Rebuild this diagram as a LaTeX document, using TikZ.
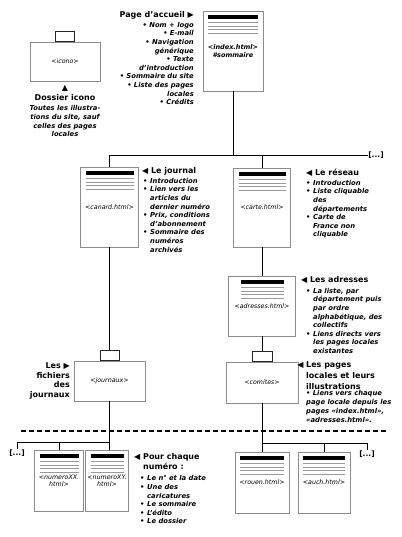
\documentclass[tikz,border=0pt]{standalone}
\usepackage{fontspec}
\setmainfont{DejaVu Sans}
\usetikzlibrary{positioning}

\newcommand{\puce}{\makebox[7pt][l]{•}}
\newcommand{\suite}{\hspace*{7pt}}
\newcommand{\versD}{{\mdseries\upshape ▶}}
\newcommand{\versG}{{\mdseries\upshape ◀}}
\newcommand{\versH}{{\mdseries\upshape ▲}}

\tikzset{
  pagebox/.style={
    rectangle, draw=black!45, line width=0.9pt, fill=white,
    inner sep=0pt, align=center,
    font=\fontsize{6.3}{7.6}\selectfont\itshape,
    path picture={
      \fill[black] ([xshift=#1, yshift=-4]path picture bounding box.north west)
        rectangle ([xshift=-#1, yshift=-8]path picture bounding box.north east);
      \foreach \dy in {11.5,15,18.5,22}
        \draw[black!40, line width=0.9pt]
          ([xshift=#1, yshift=-\dy]path picture bounding box.north west) --
          ([xshift=-#1, yshift=-\dy]path picture bounding box.north east);
    }
  },
  pagebox/.default=5,
  folderbox/.style={
    rectangle, draw=black!45, line width=0.9pt, fill=white,
    inner sep=0pt, font=\fontsize{6.3}{7.6}\selectfont\itshape
  },
  foldertab/.style={
    rectangle, draw=black!85, line width=0.8pt, fill=white,
    inner sep=0pt, minimum width=19, minimum height=9.5
  },
  link/.style={draw, line width=0.9pt},
  separator/.style={line width=1.6pt, dash pattern=on 5pt off 3pt},
  titre/.style={font=\fontsize{8}{9.5}\selectfont\bfseries, inner sep=0pt, align=left},
  liste/.style={font=\fontsize{6.8}{8.6}\selectfont\bfseries\itshape, inner sep=0pt, align=left},
  etc/.style={font=\fontsize{7.5}{9}\selectfont\bfseries, inner sep=0pt}
}

\begin{document}
\begin{tikzpicture}[x=1pt, y=-1pt]
\useasboundingbox (0,0) rectangle (401,537);

% Pages html
\node[pagebox, minimum width=60, minimum height=80,
  font=\fontsize{6.5}{8.5}\selectfont\bfseries\itshape] (index) at (233,51)
  {<index.html>\\\#sommaire};
\node[pagebox, minimum width=58, minimum height=80] (canard) at (109.5,207) {<canard.html>};
\node[pagebox, minimum width=57, minimum height=79] (carte) at (262,207.5) {<carte.html>};
\node[pagebox=12, minimum width=67, minimum height=60] (adresses) at (262,306) {<adresses.html>};
\node[pagebox, minimum width=49, minimum height=61] (numXX) at (59,480.5) {<numeroXX.\\html>};
\node[pagebox, minimum width=43, minimum height=61] (numXY) at (107,480.5) {<numeroXY.\\html>};
\node[pagebox, minimum width=54, minimum height=61] (rouen) at (262,482.5) {<rouen.html>};
\node[pagebox, minimum width=52, minimum height=61] (auch) at (324,482.5) {<auch.html>};

% Dossiers
\node[folderbox, minimum width=70, minimum height=39] (icono) at (65,61.5) {<icono>};
\node[foldertab, above=0pt of icono] (itab) {};
\node[folderbox, minimum width=71, minimum height=40] (journaux) at (109.5,381) {<journaux>};
\node[foldertab, above=0pt of journaux] (jtab) {};
\node[folderbox, minimum width=72, minimum height=41] (comites) at (262,382.5) {<comites>};
\node[foldertab, minimum width=20, above=0pt of comites] (ctab) {};

% Suites
\node[etc] (etctop) at (376,155) {[...]};
\node[etc] (etcl) at (17,453) {[...]};
\node[etc] (etcr) at (367,454) {[...]};

% Liaisons
\draw[link] (index.south) -- (index.south |- etctop.west);
\draw[link] (canard.north) |- (etctop.west);
\draw[link] (carte.north) -- (carte.north |- etctop.west);
\draw[link] (canard.south) -- (jtab.north);
\draw[link] (carte.south) -- (adresses.north);
\draw[link] (adresses.south) -- (ctab.north);

\coordinate (lbar) at (0,442);
\coordinate (rbar) at (0,443);
\draw[link] (journaux.south) -- (journaux.south |- numXY.north);
\draw[link] (etcl.north) |- (journaux.south |- lbar);
\draw[link] (numXX.north) -- (numXX.north |- lbar);
\draw[link] (comites.south) -- (rouen.north);
\draw[link] (comites.south |- rbar) -| (etcr.north);
\draw[link] (auch.north) -- (auch.north |- rbar);

% Separation
\coordinate (sepL) at (21,431);
\coordinate (sepR) at (386,431);
\draw[separator] (sepL) -- (sepR);

% Textes
\node[titre, anchor=north east] (accueil) at (194,11) {Page d'accueil \versD};
\node[liste, anchor=north east, align=right] (accueil-liste) at (194,22)
  {• Nom + logo\\• E-mail\\• Navigation\\générique\\• Texte\\d'introduction\\
   • Sommaire du site\\• Liste des pages\\locales\\• Crédits};

\node[titre, anchor=north, align=center] (icono-titre) at (65,85.5) {\versH\\Dossier icono};
\node[liste, anchor=north, align=center] (icono-texte) at (65,105.5)
  {Toutes les illustra-\\tions du site, sauf\\celles des pages\\locales};

\node[titre, anchor=north west] (journal) at (142,167.5) {\versG\ Le journal};
\node[liste, anchor=north west] (journal-liste) at (143,178)
  {\puce Introduction\\\puce Lien vers les\\\suite articles du\\\suite dernier numéro\\
   \puce Prix, conditions\\\suite d'abonnement\\\puce Sommaire des\\\suite numéros\\\suite archivés};

\node[titre, anchor=north west] (reseau) at (306,168.5) {\versG\ Le réseau};
\node[liste, anchor=north west] (reseau-liste) at (306,180)
  {\puce Introduction\\\puce Liste cliquable\\\suite des\\\suite départements\\
   \puce Carte de\\\suite France non\\\suite cliquable};

\node[titre, anchor=north west] (adr) at (301,276.5) {\versG\ Les adresses};
\node[liste, anchor=north west] (adr-liste) at (306,288)
  {\puce La liste, par\\\suite département puis\\\suite par ordre\\\suite alphabétique, des\\
   \suite collectifs\\\puce Liens directs vers\\\suite les pages locales\\\suite existantes};

\node[titre, anchor=north west, font=\fontsize{8}{11}\selectfont\bfseries] (locales) at (306,361.5)
  {\llap{\versG\ }Les pages\\locales et leurs\\illustrations};
\node[liste, anchor=north west, font=\fontsize{6.8}{9}\selectfont\bfseries\itshape] (locales-liste) at (306,390)
  {• Liens vers chaque\\page locale depuis les\\pages «index.html»,\\«adresses.html».};

\node[titre, anchor=north east, align=right] (fichiers) at (70,362.5)
  {Les \versD\\fichiers\\des\\journaux};

\node[titre, anchor=north west] (numero) at (134,453.5)
  {\versG\ Pour chaque\\\phantom{\versG\ }numéro :};
\node[liste, anchor=north west] (numero-liste) at (140,475.5)
  {\puce Le n° et la date\\\puce Une des\\\suite caricatures\\\puce Le sommaire\\
   \puce L'édito\\\puce Le dossier};

\end{tikzpicture}
\end{document}
